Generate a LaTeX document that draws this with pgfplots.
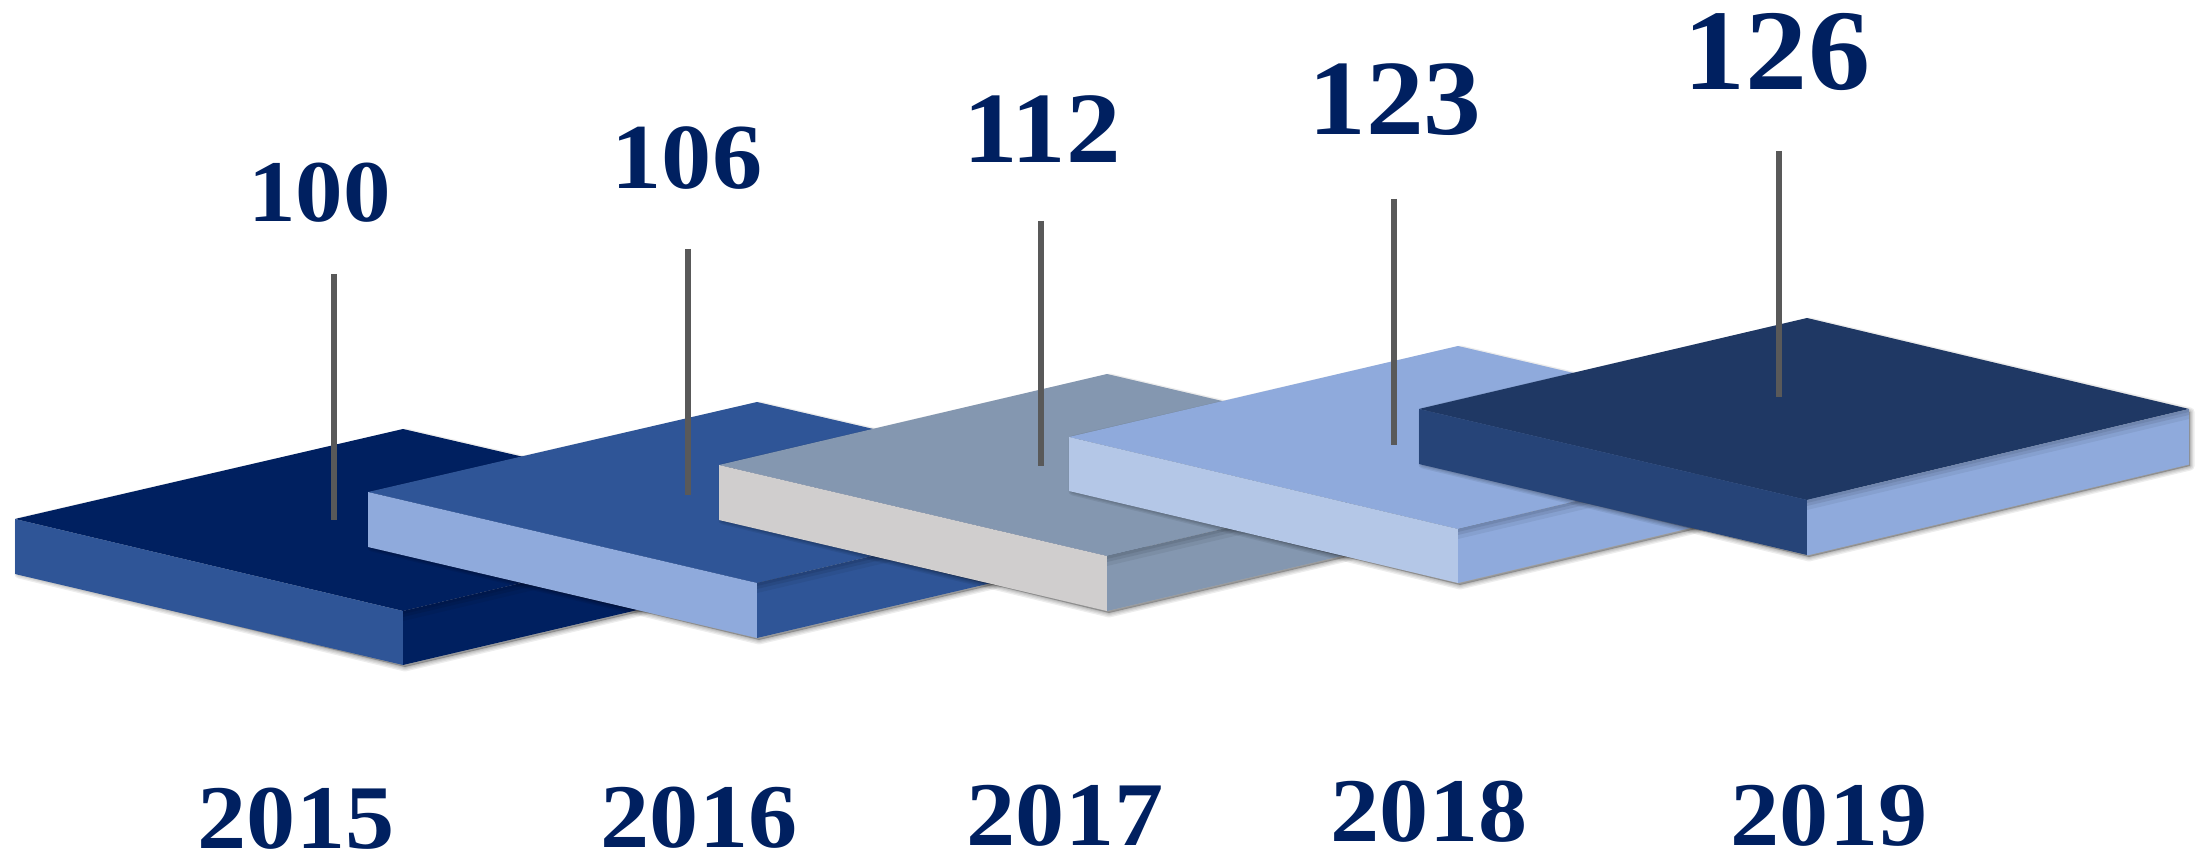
\documentclass[border=0pt]{standalone}
\usepackage{fontspec}
\setmainfont{Liberation Serif}
\newfontfamily\labfont[FakeStretch=1.08]{Liberation Serif}
\usepackage{pgfplots}
\pgfplotsset{compat=1.18}
\definecolor{tx}{HTML}{002060}
\definecolor{stick}{HTML}{595959}
\definecolor{top2015}{HTML}{002060}\definecolor{left2015}{HTML}{2F5597}\definecolor{right2015}{HTML}{002060}
\definecolor{top2016}{HTML}{2F5597}\definecolor{left2016}{HTML}{8FAADC}\definecolor{right2016}{HTML}{2F5597}
\definecolor{top2017}{HTML}{8497B0}\definecolor{left2017}{HTML}{D0CECE}\definecolor{right2017}{HTML}{8497B0}
\definecolor{top2018}{HTML}{8FAADC}\definecolor{left2018}{HTML}{B4C7E7}\definecolor{right2018}{HTML}{8FAADC}
\definecolor{top2019}{HTML}{1F3864}\definecolor{left2019}{HTML}{264478}\definecolor{right2019}{HTML}{8FAADC}
% #1 Lx #2 Cx #3 Rx #4 back y #5 mid y #6 front y #7 mid-bottom y #8 front-bottom y #9 year
\newcommand\shadowlayer[9]{%
  \addplot[draw=black,fill=black,draw opacity=0.07,fill opacity=0.07,line width=#9pt,line join=round]
    coordinates {(#1+4,#5+3) (#2+3,#4+4) (#3+1,#5+3) (#3+1,#7+2) (#2+2,#8+2) (#1+4,#7)} -- cycle;}
\newcommand\block[9]{%
  \shadowlayer{#1}{#2}{#3}{#4}{#5}{#6}{#7}{#8}{4.5}%
  \shadowlayer{#1}{#2}{#3}{#4}{#5}{#6}{#7}{#8}{3.2}%
  \shadowlayer{#1}{#2}{#3}{#4}{#5}{#6}{#7}{#8}{2}%
  \shadowlayer{#1}{#2}{#3}{#4}{#5}{#6}{#7}{#8}{1}%
  \addplot[draw=none,fill=top#9] coordinates {(#1,#5) (#2,#4) (#3,#5) (#2,#6)} -- cycle;
  \addplot[draw=none,fill=left#9] coordinates {(#1,#5) (#2,#6) (#2,#8) (#1,#7)} -- cycle;
  \addplot[draw=none,fill=right#9] coordinates {(#2,#6) (#3,#5) (#3,#7) (#2,#8)} -- cycle;
  \addplot[draw=none,fill=black,fill opacity=0.08] coordinates {(#2,#6) (#3,#5) (#3,#5+3) (#2,#6+3)} -- cycle;
  \addplot[draw=none,fill=black,fill opacity=0.08] coordinates {(#2,#6) (#3,#5) (#3,#5+6) (#2,#6+6)} -- cycle;
  \addplot[draw=none,fill=black,fill opacity=0.06] coordinates {(#2,#6) (#3,#5) (#3,#5+10) (#2,#6+10)} -- cycle;
}
\newcommand\lab[4]{%
  \addplot[draw=none,mark=none,nodes near coords={\labfont\bfseries\fontsize{#3}{#3}\selectfont #4},
    every node near coord/.style={anchor=center,inner sep=0pt,outer sep=0pt,text=tx}]
    coordinates {(#1,#2)};}
\newcommand\stickline[3]{%
  \addplot[draw=stick,line width=3pt,line cap=butt] coordinates {(#1,#2) (#1,#3)};}
\begin{document}
\begin{tikzpicture}
\path[use as bounding box] (0,0) rectangle (1098.5pt,427pt);
\begin{axis}[
  at={(0,0)},anchor=south west,
  scale only axis,width=1098.5pt,height=427pt,
  xmin=0,xmax=2197,ymin=0,ymax=854,y dir=reverse,
  hide axis,clip=false]
\block{15}{403}{791}{429}{519}{611}{574}{665}{2015}
\block{368}{757}{1145}{402}{492}{583}{547}{638}{2016}
\block{719}{1107}{1495}{374}{465}{556}{520}{611}{2017}
\block{1069}{1458}{1847}{346}{437}{529}{491}{583}{2018}
\block{1419}{1807}{2189}{318}{409}{500}{464}{555}{2019}
\addplot[draw=left2016,line width=0.5pt] coordinates {(1807,555) (2189,464)};
\stickline{334}{274}{520}
\stickline{688}{249}{495}
\stickline{1041}{221}{466}
\stickline{1394}{199}{445}
\stickline{1779}{151}{397}
\lab{319.5}{192.5}{44}{100}
\lab{687}{158}{46.5}{106}
\lab{1042}{129}{50.5}{112}
\lab{1395}{100}{53.5}{123}
\lab{1777}{52}{57.5}{126}
\lab{296}{819}{45.5}{2015}
\lab{699}{818}{45.5}{2016}
\lab{1065}{816}{45.5}{2017}
\lab{1429}{812}{45.5}{2018}
\lab{1829}{816}{45.5}{2019}
\end{axis}
\end{tikzpicture}
\end{document}
